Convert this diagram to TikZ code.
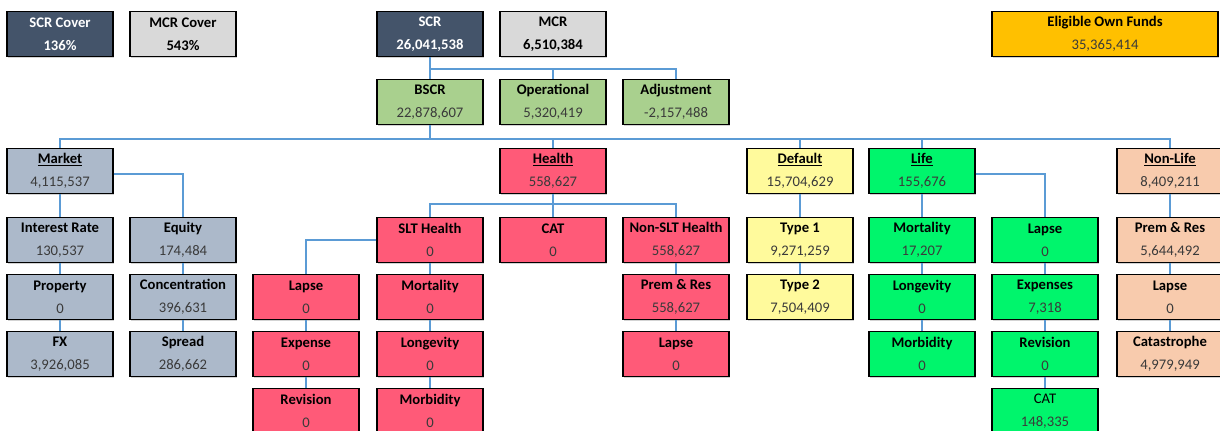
\documentclass[tikz,border=0pt]{standalone}
\usepackage{fontspec}
\setmainfont{Carlito}
\usetikzlibrary{shadows}

\definecolor{capblue}{HTML}{44546A}
\definecolor{capgray}{HTML}{D9D9D9}
\definecolor{fundgold}{HTML}{FFC000}
\definecolor{bscrgreen}{HTML}{A9D08E}
\definecolor{mktgray}{HTML}{ACB9CA}
\definecolor{hlthred}{HTML}{FF5A78}
\definecolor{dftyellow}{HTML}{FFFA9C}
\definecolor{lifegreen}{HTML}{00F56C}
\definecolor{nonlifepeach}{HTML}{F8CBAD}
\definecolor{linkblue}{HTML}{5B9BD5}
\definecolor{amtgray}{HTML}{3A3A3A}

\newcommand{\amt}[1]{\textcolor{amtgray}{#1}}

\begin{document}
\begin{tikzpicture}[x=0.75pt,y=-0.75pt,
	box/.style={draw=black, line width=1pt, minimum width=79.5pt, minimum height=33.75pt,
		inner sep=0pt, align=center, font=\fontsize{11}{17.5}\selectfont,
		drop shadow={shadow xshift=1pt, shadow yshift=-1pt, opacity=0.35}},
	capbox/.style={box, fill=capblue, text=white},
	graybox/.style={box, fill=capgray},
	fundbox/.style={box, fill=fundgold, minimum width=169.5pt},
	bscrbox/.style={box, fill=bscrgreen},
	mktbox/.style={box, fill=mktgray},
	hlthbox/.style={box, fill=hlthred},
	dftbox/.style={box, fill=dftyellow},
	lifebox/.style={box, fill=lifegreen},
	nlbox/.style={box, fill=nonlifepeach},
	link/.style={draw=linkblue, line width=1.6pt}]

	\useasboundingbox (0,0) rectangle (1220,430);

	% top row
	\node [capbox] (scrcover) at (60,34) {\textbf{SCR Cover}\\\textbf{136\%}};
	\node [graybox] (mcrcover) at (183,34) {\textbf{MCR Cover}\\\textbf{543\%}};
	\node [capbox] (scr) at (430,34) {\textbf{SCR}\\\textbf{26,041,538}};
	\node [graybox] (mcr) at (553,34) {\textbf{MCR}\\\textbf{6,510,384}};
	\node [fundbox] (eof) at (1105,34) {\textbf{Eligible Own Funds}\\\amt{35,365,414}};

	\node [bscrbox] (bscr) at (430,102) {\textbf{BSCR}\\\amt{22,878,607}};
	\node [bscrbox] (oper) at (553,102) {\textbf{Operational}\\\amt{5,320,419}};
	\node [bscrbox] (adjust) at (676,102) {\textbf{Adjustment}\\\amt{-2,157,488}};

	% modules
	\node [mktbox] (market) at (60,171) {\underline{\textbf{Market}}\\\amt{4,115,537}};
	\node [hlthbox] (health) at (553,171) {\underline{\textbf{Health}}\\\amt{558,627}};
	\node [dftbox] (default) at (800,171) {\underline{\textbf{Default}}\\\amt{15,704,629}};
	\node [lifebox] (life) at (922,171) {\underline{\textbf{Life}}\\\amt{155,676}};
	\node [nlbox] (nonlife) at (1170,171) {\underline{\textbf{Non-Life}}\\\amt{8,409,211}};

	% market
	\node [mktbox] (intrate) at (60,240) {\textbf{Interest Rate}\\\amt{130,537}};
	\node [mktbox] (property) at (60,297) {\textbf{Property}\\\amt{0}};
	\node [mktbox] (fx) at (60,354) {\textbf{FX}\\\amt{3,926,085}};
	\node [mktbox] (equity) at (183,240) {\textbf{Equity}\\\amt{174,484}};
	\node [mktbox] (concent) at (183,297) {\textbf{Concentration}\\\amt{396,631}};
	\node [mktbox] (spread) at (183,354) {\textbf{Spread}\\\amt{286,662}};

	% health
	\node [hlthbox] (slt) at (430,240) {\textbf{SLT Health}\\\amt{0}};
	\node [hlthbox] (hcat) at (553,240) {\textbf{CAT}\\\amt{0}};
	\node [hlthbox] (nonslt) at (676,240) {\textbf{Non-SLT Health}\\\amt{558,627}};
	\node [hlthbox] (hlapse) at (306,297) {\textbf{Lapse}\\\amt{0}};
	\node [hlthbox] (hexpense) at (306,354) {\textbf{Expense}\\\amt{0}};
	\node [hlthbox] (hrevision) at (306,411) {\textbf{Revision}\\\amt{0}};
	\node [hlthbox] (hmort) at (430,297) {\textbf{Mortality}\\\amt{0}};
	\node [hlthbox] (hlong) at (430,354) {\textbf{Longevity}\\\amt{0}};
	\node [hlthbox] (hmorb) at (430,411) {\textbf{Morbidity}\\\amt{0}};
	\node [hlthbox] (hprem) at (676,297) {\textbf{Prem \& Res}\\\amt{558,627}};
	\node [hlthbox] (hnlapse) at (676,354) {\textbf{Lapse}\\\amt{0}};

	% default
	\node [dftbox] (type1) at (800,240) {\textbf{Type 1}\\\amt{9,271,259}};
	\node [dftbox] (type2) at (800,297) {\textbf{Type 2}\\\amt{7,504,409}};

	% life
	\node [lifebox] (lmort) at (922,240) {\textbf{Mortality}\\\amt{17,207}};
	\node [lifebox] (llong) at (922,297) {\textbf{Longevity}\\\amt{0}};
	\node [lifebox] (lmorb) at (922,354) {\textbf{Morbidity}\\\amt{0}};
	\node [lifebox] (llapse) at (1045,240) {\textbf{Lapse}\\\amt{0}};
	\node [lifebox] (lexpense) at (1045,297) {\textbf{Expenses}\\\amt{7,318}};
	\node [lifebox] (lrevision) at (1045,354) {\textbf{Revision}\\\amt{0}};
	\node [lifebox] (lcat) at (1045,411) {CAT\\\amt{148,335}};

	% non-life
	\node [nlbox] (nlprem) at (1170,240) {\textbf{Prem \& Res}\\\amt{5,644,492}};
	\node [nlbox] (nllapse) at (1170,297) {\textbf{Lapse}\\\amt{0}};
	\node [nlbox] (nlcat) at (1170,354) {\textbf{Catastrophe}\\\amt{4,979,949}};

	% bus lines
	\coordinate (topbus) at (0,69);
	\coordinate (mainbus) at (0,139);
	\coordinate (hlthbus) at (0,204);

	\draw [link] (scr.south) -- (bscr.north);
	\draw [link] (scr.south |- topbus) -| (adjust.north);
	\draw [link] (oper.north) -- (oper.north |- topbus);

	\draw [link] (bscr.south) -- (bscr.south |- mainbus);
	\draw [link] (market.north) -- (market.north |- mainbus) -| (nonlife.north);
	\draw [link] (health.north) -- (health.north |- mainbus);
	\draw [link] (default.north) -- (default.north |- mainbus);
	\draw [link] (life.north) -- (life.north |- mainbus);

	\draw [link] (market) -- (intrate);
	\draw [link] (intrate) -- (property);
	\draw [link] (property) -- (fx);
	\draw [link] ([yshift=-2pt]market.east) -| (equity.north);
	\draw [link] (equity) -- (concent);
	\draw [link] (concent) -- (spread);

	\draw [link] (health) -- (hcat);
	\draw [link] (slt.north) -- (slt.north |- hlthbus) -| (nonslt.north);
	\draw [link] (slt.west) -| (hlapse.north);
	\draw [link] (hlapse) -- (hexpense);
	\draw [link] (hexpense) -- (hrevision);
	\draw [link] (slt) -- (hmort);
	\draw [link] (hmort) -- (hlong);
	\draw [link] (hlong) -- (hmorb);
	\draw [link] (nonslt) -- (hprem);
	\draw [link] (hprem) -- (hnlapse);

	\draw [link] (default) -- (type1);
	\draw [link] (type1) -- (type2);

	\draw [link] (life) -- (lmort);
	\draw [link] (lmort) -- (llong);
	\draw [link] (llong) -- (lmorb);
	\draw [link] ([yshift=-2pt]life.east) -| (llapse.north);
	\draw [link] (llapse) -- (lexpense);
	\draw [link] (lexpense) -- (lrevision);
	\draw [link] (lrevision) -- (lcat);

	\draw [link] (nonlife) -- (nlprem);
	\draw [link] (nlprem) -- (nllapse);
	\draw [link] (nllapse) -- (nlcat);
\end{tikzpicture}
\end{document}
